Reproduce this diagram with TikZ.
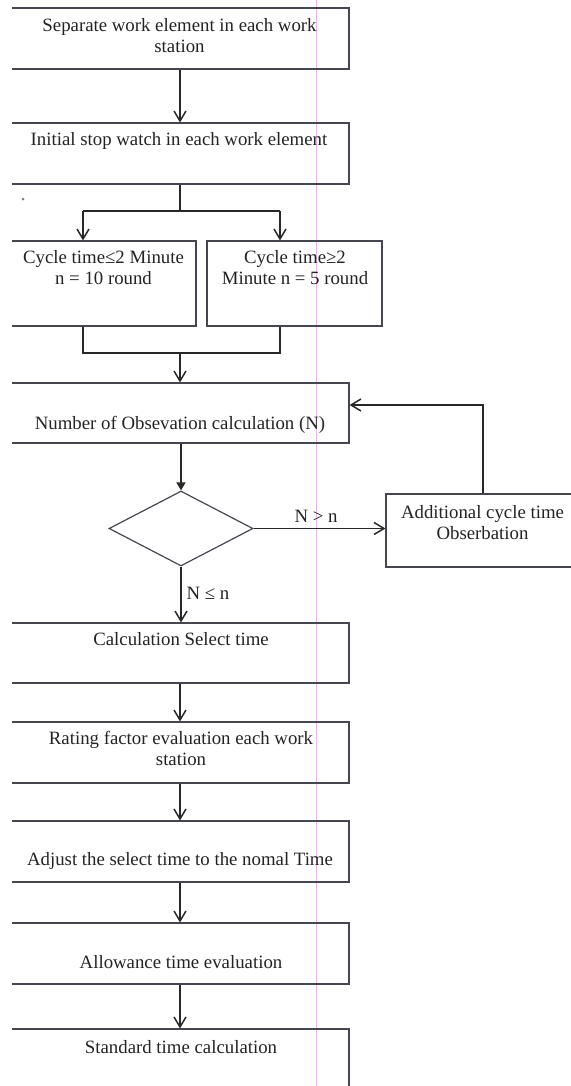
\documentclass[tikz,border=0pt]{standalone}
\usepackage{fontspec}
\setmainfont{Liberation Serif}
\usetikzlibrary{arrows.meta,shapes.geometric,fit}
\definecolor{boxc}{RGB}{70,70,80}
\definecolor{linec}{RGB}{40,40,40}
\definecolor{txtc}{RGB}{35,35,35}
\definecolor{pinkc}{RGB}{238,180,238}
\begin{document}
\begin{tikzpicture}[x=0.5pt,y=-0.5pt,
  box/.style={draw=boxc,line width=0.55pt,inner sep=0pt},
  dia/.style={draw=boxc,line width=0.6pt,diamond,inner sep=0pt},
  txt/.style={inner sep=0pt,align=center,font=\fontsize{9.4}{10.5}\selectfont,text=txtc},
  conn/.style={draw=linec,line width=0.75pt},
  arr/.style={conn,-{Straight Barb[length=5pt,width=6pt]}},
  farr/.style={conn,-{Triangle[length=4pt,width=4.5pt]}}]
\useasboundingbox (0,0) rectangle (571,1086);
\clip (12,0) rectangle (571,1086);
\draw[pinkc,line width=0.4pt] (316,0) -- (316,1086);
\fill[gray] (23,199) circle (1.5);
% boxes
\node[box, fit={(0,8) (349,69)}] (b1) {};
\node[txt, anchor=north] (t1) at (179.5,18.2) {Separate work element in each work\\station};
\node[box, fit={(0,123) (349,184)}] (b2) {};
\node[txt, anchor=base] (t2) at (179,146) {Initial stop watch in each work element};
\node[box, fit={(0,241) (196,326)}] (cl) {};
\node[txt, anchor=north] (tcl) at (103.5,250.2) {Cycle time≤2 Minute\\n = 10 round};
\node[box, fit={(207,241) (382,326)}] (cr) {};
\node[txt, anchor=north] (tcr) at (295,250.2) {Cycle time≥2\\Minute n = 5 round};
\node[box, fit={(0,383) (349,443)}] (bN) {};
\node[txt, anchor=base] (tN) at (180,429) {Number of Obsevation calculation (N)};
\node[dia, minimum width=72pt, minimum height=37.5pt] (d) at (181,528.5) {};
\node[box, fit={(386,494) (590,567)}] (add) {};
\node[txt, anchor=north] (tadd) at (482.5,505.2) {Additional cycle time\\Obserbation};
\node[box, fit={(0,623) (349,683)}] (calc) {};
\node[txt, anchor=base] (tcalc) at (181,645) {Calculation Select time};
\node[box, fit={(0,722) (349,783)}] (rate) {};
\node[txt, anchor=north] (trate) at (181,731.2) {Rating factor evaluation each work\\station};
\node[box, fit={(0,821) (349,882)}] (adj) {};
\node[txt, anchor=base] (tadj) at (180,865) {Adjust the select time to the nomal Time};
\node[box, fit={(0,923) (349,984)}] (allow) {};
\node[txt, anchor=base] (tallow) at (181,968) {Allowance time evaluation};
\node[box, fit={(0,1029) (349,1110)}] (std) {};
\node[txt, anchor=base] (tstd) at (181,1053) {Standard time calculation};
% connectors
\coordinate (mx) at (180,0);
\draw[arr] (b1.south -| mx) -- (b2.north -| mx);
\coordinate (sp) at (180,211);
\coordinate (sl) at (83,211);
\coordinate (sr) at (280,211);
\draw[conn] (b2.south -| mx) -- (sp);
\draw[conn] (sl) -- (sr);
\draw[arr] (sl) -- (cl.north -| sl);
\draw[arr] (sr) -- (cr.north -| sr);
\coordinate (jl) at (83,353);
\coordinate (jr) at (280,353);
\coordinate (jm) at (180,353);
\draw[conn,line join=miter] (cl.south -| jl) -- (jl) -- (jr) -- (cr.south -| jr);
\draw[arr] (jm) -- (bN.north -| jm);
\draw[farr] (bN.south -| d.north) -- (d.north);
\draw[arr] (d.east) -- (add.west |- d.east);
\node[txt, anchor=base] (lgt) at (316,522) {N > n};
\coordinate (fb) at (483,405);
\draw[arr,line join=miter] (add.north -| fb) -- (fb) -- (bN.east |- fb);
\draw[arr] (d.south) -- (calc.north -| d.south);
\node[txt, anchor=base] (lle) at (208,599) {N ≤ n};
\draw[arr] (calc.south -| mx) -- (rate.north -| mx);
\draw[arr] (rate.south -| mx) -- (adj.north -| mx);
\draw[arr] (adj.south -| mx) -- (allow.north -| mx);
\draw[arr] (allow.south -| mx) -- (std.north -| mx);
\end{tikzpicture}
\end{document}
